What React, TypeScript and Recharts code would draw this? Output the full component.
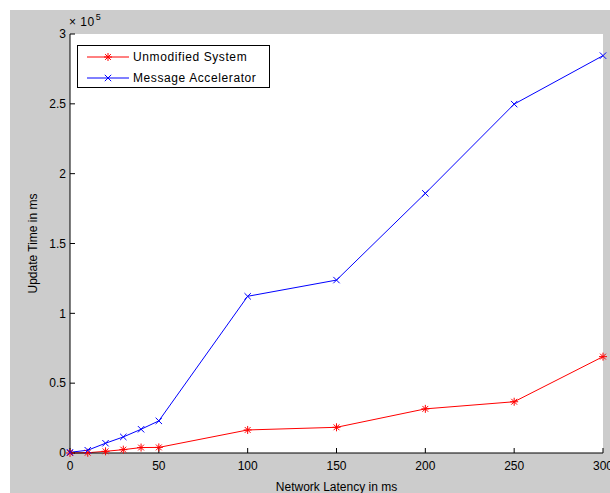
import React from 'react';
import { CartesianGrid, Label, Legend, Line, LineChart, XAxis, YAxis } from 'recharts';

const LATENCY = [0, 10, 20, 30, 40, 50, 100, 150, 200, 250, 300];
const UNMODIFIED = [0, 0.002, 0.012, 0.024, 0.039, 0.04, 0.165, 0.184, 0.316, 0.367, 0.69];
const ACCELERATOR = [0.005, 0.02, 0.07, 0.115, 0.17, 0.23, 1.122, 1.238, 1.859, 2.498, 2.845];
const X_TICKS = [0, 50, 100, 150, 200, 250, 300];
const Y_TICKS = [0, 0.5, 1, 1.5, 2, 2.5, 3];
const SERIES_NAMES = ['Unmodified System', 'Message Accelerator'];

const RED = '#ff0000';
const BLUE = '#0000ff';
const FONT = '"Liberation Sans", Arial, sans-serif';

const data = LATENCY.map((latency, i) => ({
  latency,
  unmodified: UNMODIFIED[i],
  accelerator: ACCELERATOR[i],
}));

// matlab '*' marker
function Asterisk({ cx, cy }: any) {
  if (cx == null || cy == null) return null;
  const r = 4;
  const d = 2.9;
  return (
    <g stroke={RED} strokeWidth={1}>
      <line x1={cx - r} y1={cy} x2={cx + r} y2={cy} />
      <line x1={cx} y1={cy - r} x2={cx} y2={cy + r} />
      <line x1={cx - d} y1={cy - d} x2={cx + d} y2={cy + d} />
      <line x1={cx - d} y1={cy + d} x2={cx + d} y2={cy - d} />
    </g>
  );
}

// matlab 'x' marker
function Cross({ cx, cy }: any) {
  if (cx == null || cy == null) return null;
  const d = 3.2;
  return (
    <g stroke={BLUE} strokeWidth={1}>
      <line x1={cx - d} y1={cy - d} x2={cx + d} y2={cy + d} />
      <line x1={cx - d} y1={cy + d} x2={cx + d} y2={cy - d} />
    </g>
  );
}

function LegendBox() {
  const rows = [
    { name: SERIES_NAMES[0], color: RED, Marker: Asterisk },
    { name: SERIES_NAMES[1], color: BLUE, Marker: Cross },
  ];
  return (
    <div
      style={{
        border: '1px solid #000',
        background: '#fff',
        width: 191,
        height: 41,
        fontFamily: FONT,
        fontSize: 12,
        letterSpacing: 0.6,
        color: '#000',
      }}
    >
      {rows.map(({ name, color, Marker }) => (
        <div key={name} style={{ display: 'flex', alignItems: 'center', height: 20, marginTop: 1 }}>
          <svg width={55} height={20} style={{ display: 'block' }}>
            <line x1={9} y1={10} x2={51} y2={10} stroke={color} strokeWidth={1} />
            <Marker cx={30} cy={10} />
          </svg>
          <span>{name}</span>
        </div>
      ))}
    </div>
  );
}

const axisStroke = { stroke: '#000', strokeWidth: 1 };
const tickStyle = { fill: '#000', fontSize: 12, fontFamily: FONT };

export default function App() {
  return (
    <div
      style={{
        position: 'absolute',
        left: 0,
        top: 0,
        width: 610,
        height: 493,
        background: '#fff',
        overflow: 'hidden',
        fontFamily: FONT,
      }}
    >
      <div style={{ position: 'absolute', left: 10, top: 10, right: 0, bottom: 0, background: '#cccccc' }} />
      <div style={{ position: 'absolute', left: 69, top: 15, fontSize: 12, color: '#000', letterSpacing: 0.5 }}>
        × 10<span style={{ fontSize: 9, position: 'relative', top: -6, marginLeft: 1 }}>5</span>
      </div>
      <div style={{ position: 'absolute', left: 0, top: 0 }}>
        <LineChart width={610} height={493} data={data} margin={{ top: 34, right: 7, bottom: 0, left: 10 }}>
          <CartesianGrid horizontal={false} vertical={false} fill="#fff" fillOpacity={1} />
          <XAxis
            dataKey="latency"
            type="number"
            domain={[0, 300]}
            ticks={X_TICKS}
            height={40}
            tickSize={-5}
            tickMargin={13}
            axisLine={axisStroke}
            tickLine={axisStroke}
            tick={tickStyle}
            interval={0}
          >
            <Label value="Network Latency in ms" position="center" dy={14} fill="#000" fontSize={12} fontFamily={FONT} />
          </XAxis>
          <XAxis
            xAxisId="top"
            orientation="top"
            type="number"
            domain={[0, 300]}
            ticks={X_TICKS}
            height={0}
            tickSize={-5}
            axisLine={axisStroke}
            tickLine={axisStroke}
            tick={false}
          />
          <YAxis
            type="number"
            domain={[0, 3]}
            ticks={Y_TICKS}
            width={60}
            tickSize={-5}
            tickMargin={9}
            axisLine={axisStroke}
            tickLine={axisStroke}
            tick={tickStyle}
            interval={0}
          >
            <Label
              value="Update Time in ms"
              angle={-90}
              position="center"
              dx={-7}
              fill="#000"
              fontSize={12}
              fontFamily={FONT}
            />
          </YAxis>
          <YAxis
            yAxisId="right"
            orientation="right"
            type="number"
            domain={[0, 3]}
            ticks={Y_TICKS}
            width={0}
            tickSize={-5}
            axisLine={axisStroke}
            tickLine={axisStroke}
            tick={false}
          />
          <Legend
            layout="horizontal"
            verticalAlign="middle"
            align="center"
            wrapperStyle={{ left: 77, top: 45, width: 193 }}
            content={() => <LegendBox />}
          />
          <Line
            dataKey="unmodified"
            name={SERIES_NAMES[0]}
            stroke={RED}
            strokeWidth={1}
            dot={(p: any) => <Asterisk key={`u${p.index}`} {...p} />}
            activeDot={false}
            isAnimationActive={false}
          />
          <Line
            dataKey="accelerator"
            name={SERIES_NAMES[1]}
            stroke={BLUE}
            strokeWidth={1}
            dot={(p: any) => <Cross key={`a${p.index}`} {...p} />}
            activeDot={false}
            isAnimationActive={false}
          />
        </LineChart>
      </div>
    </div>
  );
}
